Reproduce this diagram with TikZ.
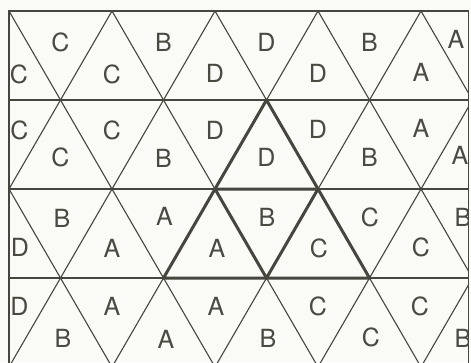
\documentclass[tikz,border=0pt]{standalone}
\usepackage{fontspec}
\setmainfont{TeX Gyre Heros}
\definecolor{bg}{HTML}{FAFAF6}
\definecolor{lc}{HTML}{46463E}
\definecolor{tc}{HTML}{4A4A42}
\begin{document}
\begin{tikzpicture}[x=1pt,y=-1pt,
  grid/.style={line width=1.1pt, draw=lc},
  boldedge/.style={line width=3pt, draw=lc, line cap=round, line join=round},
  lbl/.style={font=\fontsize{25}{25}\selectfont, text=tc, inner sep=0pt}]
\useasboundingbox (0,0) rectangle (471,362);
\fill[bg] (0,0) rectangle (471,362);
\begin{scope}
  \clip (9,11) rectangle (468.5,367);
  \foreach \k in {-2,...,4} \draw[grid] ({9+103*\k},11) -- ({9+103*\k+206},367);
  \foreach \k in {0,...,6} \draw[grid] ({9+103*\k},11) -- ({9+103*\k-206},367);
  \foreach \y in {100,189,278} \draw[grid] (9,\y) -- (469,\y);
  % row 0
  \node[lbl] (a01) at (19,74) {C};
  \node[lbl] (a02) at (60.5,42.5) {C};
  \node[lbl] (a03) at (112,74) {C};
  \node[lbl] (a04) at (163.5,42.5) {B};
  \node[lbl] (a05) at (215,73) {D};
  \node[lbl] (a06) at (266.5,42) {D};
  \node[lbl] (a07) at (318,73) {D};
  \node[lbl] (a08) at (369.5,42.5) {B};
  \node[lbl] (a09) at (421,72) {A};
  \node[lbl] (a10) at (456,39) {A};
  % row 1
  \node[lbl] (b01) at (19.5,130) {C};
  \node[lbl] (b02) at (60.5,157.5) {C};
  \node[lbl] (b03) at (112,130) {C};
  \node[lbl] (b04) at (163.5,158) {B};
  \node[lbl] (b05) at (215,130) {D};
  \node[lbl] (b06) at (266.5,157) {D};
  \node[lbl] (b07) at (318,129) {D};
  \node[lbl] (b08) at (369.5,157) {B};
  \node[lbl] (b09) at (421,128) {A};
  \node[lbl] (b10) at (460,155) {A};
  % row 2
  \node[lbl] (c01) at (20,247) {D};
  \node[lbl] (c02) at (62,218) {B};
  \node[lbl] (c03) at (112,248) {A};
  \node[lbl] (c04) at (164.5,216) {A};
  \node[lbl] (c05) at (217,248) {A};
  \node[lbl] (c06) at (267,217) {B};
  \node[lbl] (c07) at (319,248) {C};
  \node[lbl] (c08) at (370,217) {C};
  \node[lbl] (c09) at (421,247) {C};
  \node[lbl] (c10) at (463,217) {B};
  % row 3
  \node[lbl] (d01) at (19.5,306.5) {D};
  \node[lbl] (d02) at (63,338) {B};
  \node[lbl] (d03) at (112,306) {A};
  \node[lbl] (d04) at (166,339) {A};
  \node[lbl] (d05) at (216,306) {A};
  \node[lbl] (d06) at (268,338) {B};
  \node[lbl] (d07) at (318,306) {C};
  \node[lbl] (d08) at (371,337) {C};
  \node[lbl] (d09) at (420,306) {C};
  \node[lbl] (d10) at (463,338) {B};
\end{scope}
\draw[grid] (9,367) -- (9,11) -- (468.5,11) -- (468.5,367);
% bold triangle
\coordinate (T) at (266.5,100);
\coordinate (L) at (163.5,278);
\coordinate (R) at (369.5,278);
\coordinate (ML) at (215,189);
\coordinate (MR) at (318,189);
\coordinate (BM) at (266.5,278);
\draw[boldedge] (T) -- (L) -- (R) -- cycle;
\draw[boldedge] (ML) -- (MR) -- (BM) -- cycle;
\end{tikzpicture}
\end{document}
